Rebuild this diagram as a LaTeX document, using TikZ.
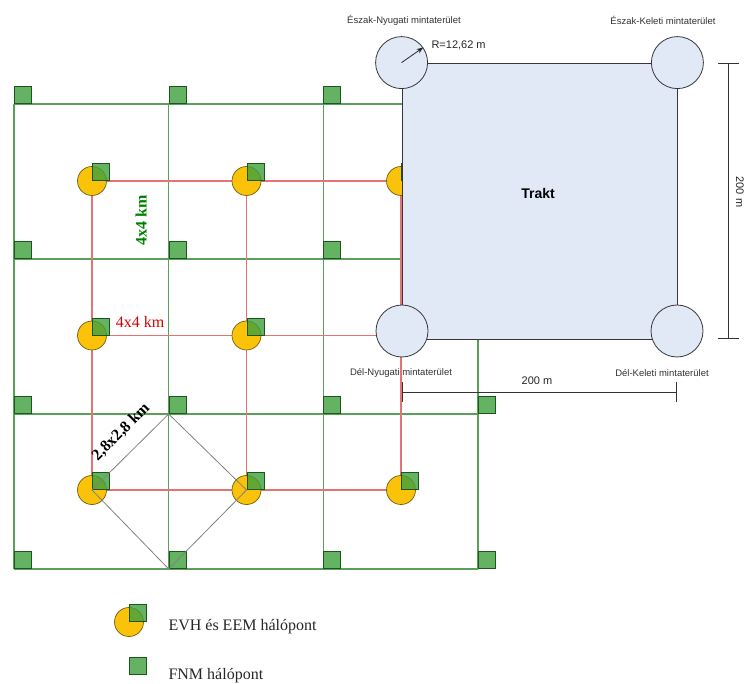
\documentclass[tikz,border=0pt]{standalone}
\usepackage{fontspec}
\setmainfont{Liberation Serif}
\setsansfont{Liberation Sans}
\usetikzlibrary{arrows.meta}
\usepackage{xcolor}
\definecolor{fnmfill}{RGB}{60,160,60}
\definecolor{fnmborder}{RGB}{30,85,30}
\definecolor{gridgreen}{RGB}{90,160,90}
\definecolor{evhfill}{RGB}{250,195,10}
\definecolor{evhborder}{RGB}{115,95,20}
\definecolor{gridred}{RGB}{228,115,115}
\definecolor{traktfill}{RGB}{226,233,246}
\definecolor{traktborder}{RGB}{55,55,55}
\tikzset{
    fnm/.style={rectangle, draw=fnmborder, fill=fnmfill, fill opacity=0.8, minimum size=17pt, inner sep=0pt, anchor=south west, line width=0.8pt},
    evh/.style={circle, draw=evhborder, fill=evhfill, minimum size=29pt, inner sep=0pt, line width=0.7pt},
    plot/.style={circle, draw=traktborder, fill=traktfill, minimum size=52pt, inner sep=0pt, line width=0.8pt},
    trakt/.style={rectangle, draw=traktborder, fill=traktfill, minimum width=275pt, minimum height=276pt, inner sep=0pt, line width=0.8pt},
    plotlabel/.style={font=\sffamily\fontsize{9.5}{11}\selectfont, text=black!80},
    dimlabel/.style={font=\sffamily\fontsize{11}{13}\selectfont, text=black!85},
    kmlabel/.style={font=\fontsize{16}{18}\selectfont},
    legendtext/.style={font=\fontsize{16}{18}\selectfont, anchor=west, text=black!85},
    greenline/.style={draw=gridgreen, line width=1.3pt},
    redline/.style={draw=gridred, line width=1.3pt},
    diamondline/.style={draw=black!50, line width=0.8pt},
    dimline/.style={draw=black!80, line width=0.9pt}
}

\begin{document}
\begin{tikzpicture}[x=1pt, y=-1pt, >=Stealth]
    \useasboundingbox (0,0) rectangle (745,684);
    % grid points
    \foreach \i in {0,...,3}
        \foreach \j in {0,...,3}
            \coordinate (g-\i-\j) at ({14+154.7*\i},{104+155*\j});
    \foreach \i in {0,...,2}
        \foreach \j in {0,...,2}
            \coordinate (r-\i-\j) at ({92+154.5*\i},{181+154.5*\j});

    % FNM grid, 4x4 km
    \foreach \j in {0,...,3}
        \draw[greenline] (g-0-\j) -- (g-3-\j);
    \foreach \i in {0,...,3}
        \draw[greenline] (g-\i-0) -- (g-\i-3);

    % EVH grid, 4x4 km
    \foreach \j in {0,...,2}
        \draw[redline] (r-0-\j) -- (r-2-\j);
    \foreach \i in {0,...,2}
        \draw[redline] (r-\i-0) -- (r-\i-2);

    \foreach \i in {0,...,2}
        \foreach \j in {0,...,2} {
            \node[evh] (evh-\i-\j) at (r-\i-\j) {};
            \node[fnm] (evhsq-\i-\j) at (r-\i-\j) {};
        }
    \foreach \i in {0,...,3}
        \foreach \j in {0,...,3}
            \node[fnm] (fnm-\i-\j) at (g-\i-\j) {};

    % 2,8x2,8 km
    \draw[diamondline] (g-1-2) -- (r-0-2) -- (g-1-3) -- (r-1-2) -- cycle;

    \node[kmlabel, text=green!50!black, font=\bfseries\fontsize{16}{18}\selectfont, rotate=90] (green-km) at (141,220) {4x4 km};
    \node[kmlabel, text=red!85!black] (red-km) at (140,322) {4x4 km};
    \node[kmlabel, font=\bfseries\fontsize{16}{18}\selectfont, rotate=45] (diag-km) at (121,432) {2,8x2,8 km};

    % trakt
    \node[trakt] (trakt) at (539.5,201) {};
    \node[font=\sffamily\bfseries\fontsize{14}{16}\selectfont] (trakt-label) at (538,193) {Trakt};
    \node[plot] (nw) at (trakt.north west) {};
    \node[plot] (ne) at (trakt.north east) {};
    \node[plot] (sw) at (402,331) {};
    \node[plot] (se) at (677,331) {};
    \draw[->, black!85, line width=0.8pt] (nw.center) -- (nw.35);
    \node[dimlabel, anchor=west] (radius) at (428,45) {R=12,62 m};

    \node[plotlabel] (nw-label) at (404,20) {Észak-Nyugati mintaterület};
    \node[plotlabel] (ne-label) at (663,20) {Észak-Keleti mintaterület};
    \node[plotlabel] (sw-label) at (401,373) {Dél-Nyugati mintaterület};
    \node[plotlabel] (se-label) at (662,373) {Dél-Keleti mintaterület};

    % 200 m
    \coordinate (dim-top) at (728,63);
    \coordinate (dim-bottom) at (728,339);
    \draw[dimline, {Bar[width=21pt]}-{Bar[width=21pt]}] (dim-top) -- (dim-bottom);
    \node[dimlabel, rotate=-90] (dim-right) at (740,192) {200 m};
    \coordinate (dim-left) at (402,392);
    \coordinate (dim-right-end) at (677,392);
    \draw[dimline, {Bar[width=20pt]}-{Bar[width=20pt]}] (dim-left) -- (dim-right-end);
    \node[dimlabel] (dim-below) at (537,381) {200 m};

    % legend
    \coordinate (leg-a) at (129,622);
    \coordinate (leg-b) at (129,675);
    \node[evh] (leg-evh) at (leg-a) {};
    \node[fnm] (leg-evhsq) at (leg-a) {};
    \node[legendtext] (leg-evh-text) at (165,627) {EVH és EEM hálópont};
    \node[fnm] (leg-fnm) at (leg-b) {};
    \node[legendtext] (leg-fnm-text) at (165,676) {FNM hálópont};
\end{tikzpicture}
\end{document}
